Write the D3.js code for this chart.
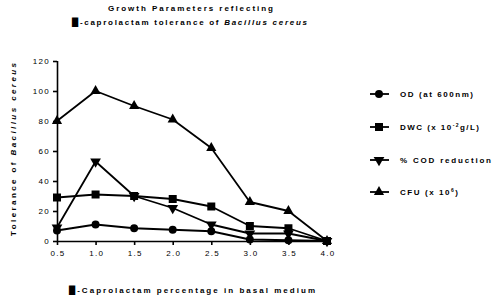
<!DOCTYPE html>
<html><head><meta charset="utf-8">
<script src="https://cdn.jsdelivr.net/npm/d3@7"></script>
<style>
body{margin:0;background:#fff;}
text{font-family:"Liberation Sans",Arial,sans-serif;fill:#000;}
</style></head>
<body>
<svg id="c" width="500" height="302"></svg>
<script>
const concentrations = [0.5, 1.0, 1.5, 2.0, 2.5, 3.0, 3.5, 4.0];
const odValues  = [7, 11, 8.5, 7.5, 6.5, 1, 0.5, 0];
const dwcValues = [29, 31, 30, 28, 23, 10, 8.5, 0];
const codValues = [9, 53, 30, 22, 11, 5, 5, 0];
const cfuValues = [80, 100, 90, 81, 62, 26, 20, 0];
const xTicks = [0.5, 1.0, 1.5, 2.0, 2.5, 3.0, 3.5, 4.0];
const yTicks = [0, 20, 40, 60, 80, 100, 120];
const seriesNames = ["OD", "DWC", "COD", "CFU"];

const series = [
  {name: seriesNames[0], values: odValues, sym: d3.symbolCircle, size: 50},
  {name: seriesNames[1], values: dwcValues, sym: d3.symbolSquare, size: 64},
  {name: seriesNames[2], values: codValues, sym: "down", size: 50},
  {name: seriesNames[3], values: cfuValues, sym: d3.symbolTriangle, size: 45}
];

const svg = d3.select("#c");
const x = d3.scaleLinear().domain([0.5, 4.0]).range([57, 327]);
const y = d3.scaleLinear().domain([0, 120]).range([241, 61]);
const ls = "1.3px";

// axes
const xAxis = svg.append("g").attr("transform", "translate(0,241)")
  .call(d3.axisBottom(x).tickValues(xTicks).tickFormat(d3.format(".1f")).tickSize(4).tickPadding(5));
const yAxis = svg.append("g").attr("transform", "translate(57,0)")
  .call(d3.axisLeft(y).tickValues(yTicks).tickSize(4).tickPadding(3));
[xAxis, yAxis].forEach(a => {
  a.selectAll("path, line").attr("stroke", "#000").attr("stroke-width", 1.6);
  a.select(".domain").attr("d", a === xAxis ? "M57.5,0.5H327.5" : "M0.5,61H0.5V241.5");
  a.selectAll("text").attr("font-size", 8).style("letter-spacing", ls).attr("font-family", "Liberation Sans, Arial, sans-serif");
});
xAxis.selectAll("text").attr("dx", "0.6px");

function sym(s) {
  if (s.sym === "down") {
    const t = d3.symbol().type(d3.symbolTriangle).size(s.size)();
    return {d: t, rot: 180};
  }
  return {d: d3.symbol().type(s.sym).size(s.size)(), rot: 0};
}

const line = d3.line().x((d, i) => x(concentrations[i])).y(d => y(d));
series.forEach(s => {
  svg.append("path").attr("d", line(s.values)).attr("fill", "none")
    .attr("stroke", "#000").attr("stroke-width", 1.8).attr("stroke-linejoin", "round");
  const m = sym(s);
  svg.selectAll(null).data(s.values).enter().append("path")
    .attr("d", m.d)
    .attr("transform", (d, i) => `translate(${x(concentrations[i])},${y(d)}) rotate(${m.rot})`)
    .attr("fill", "#000");
});

const fits = [];
function fitText(sel, len) { fits.push([sel, len]); doFit(sel, len); }
function doFit(sel, len) {
  const node = sel.node();
  sel.style("letter-spacing", "0px");
  const w = node.getComputedTextLength();
  const n = node.textContent.length;
  const sp = Math.max(0, (len - w) / (n - 1));
  sel.style("letter-spacing", sp + "px");
}

const FS = 8;
// warm-up measurement so fonts are resolved
const warm = svg.append("text").attr("font-size", FS).attr("font-weight", "bold").attr("opacity", 0).text("Warm up");
warm.append("tspan").attr("font-style", "italic").text("italic");
warm.node().getComputedTextLength();

// titles
const title = svg.append("text").attr("x", 108).attr("y", 10.5)
  .attr("font-size", FS).attr("font-weight", "bold");
title.append("tspan").text("Growth Parameters reflecting");
fitText(title, 165);
const t2 = svg.append("text").attr("x", 72).attr("y", 25)
  .attr("font-size", FS).attr("font-weight", "bold");
t2.append("tspan").attr("font-family", "DejaVu Sans").attr("font-size", 8).text("█");
t2.append("tspan").text("-caprolactam tolerance of ");
t2.append("tspan").attr("font-style", "italic").text("Bacillus cereus");
fitText(t2, 235);

// y label
const yl = svg.append("text").attr("transform", "translate(16,236) rotate(-90)")
  .attr("font-size", FS).attr("font-weight", "bold");
yl.append("tspan").text("Tolerance of ");
yl.append("tspan").attr("font-style", "italic").text("Bacillus cereus");
fitText(yl, 173);

// x label
const xl = svg.append("text").attr("x", 69).attr("y", 293)
  .attr("font-size", FS).attr("font-weight", "bold");
xl.append("tspan").attr("font-family", "DejaVu Sans").attr("font-size", 8).text("█");
xl.append("tspan").text("-Caprolactam percentage in basal medium");
fitText(xl, 246);

// legend
const legendY = [94, 127, 160, 192];
const legendWidths = [73, 79, 91, 58];
const legendLabels = [
  [["OD (at 600nm)", null]],
  [["DWC (x 10", null], ["-2", "sup"], ["g/L)", null]],
  [["% COD reduction", null]],
  [["CFU (x 10", null], ["6", "sup"], [")", null]]
];
series.forEach((s, i) => {
  const g = svg.append("g").attr("transform", `translate(379,${legendY[i]})`);
  g.append("line").attr("x1", -9).attr("x2", 10).attr("stroke", "#000").attr("stroke-width", 1.8);
  const m = sym(s);
  g.append("path").attr("d", m.d).attr("transform", `rotate(${m.rot})`).attr("fill", "#000");
  const t = g.append("text").attr("x", 21).attr("y", 3).attr("font-size", FS).attr("font-weight", "bold");
  legendLabels[i].forEach(([txt, kind], j) => {
    const sp = t.append("tspan").text(txt);
    if (kind === "sup") sp.attr("font-size", 5).attr("dy", -3.5);
    else if (j > 0) sp.attr("dy", 3.5);
  });
  fitText(t, legendWidths[i]);
});
fits.forEach(([s, l]) => doFit(s, l));
if (document.fonts && document.fonts.ready) document.fonts.ready.then(() => fits.forEach(([s, l]) => doFit(s, l)));
</script>
</body></html>
